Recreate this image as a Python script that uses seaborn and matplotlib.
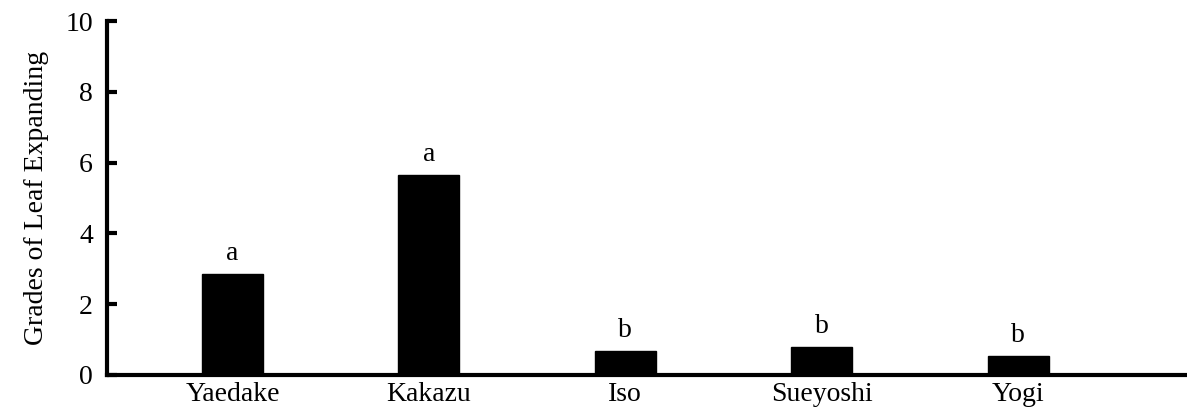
import seaborn as sns
import matplotlib.pyplot as plt
import pandas as pd

# data
cultivars = ["Yaedake", "Kakazu", "Iso", "Sueyoshi", "Yogi"]
grades = [2.85, 5.65, 0.68, 0.79, 0.54]
letters = ["a", "a", "b", "b", "b"]

df = pd.DataFrame({"cultivar": cultivars, "grade": grades})

sns.set_style("ticks", {"axes.edgecolor": "black", "text.color": "black",
                        "xtick.color": "black", "ytick.color": "black",
                        "axes.labelcolor": "black"})
plt.rcParams["font.family"] = ["Liberation Serif", "DejaVu Serif"]

fig = plt.figure(figsize=(11.87, 4.12), dpi=100)
ax = fig.add_axes([0.09, 0.09, 0.91, 0.859])

sns.barplot(data=df, x="cultivar", y="grade", color="black", width=0.31,
            edgecolor="black", ax=ax)

for i, (v, t) in enumerate(zip(grades, letters)):
    ax.text(i, v + 0.22, t, ha="center", va="bottom", fontsize=20)

ax.set_xlim(-0.64, 4.86)
ax.set_ylim(0, 10)
ax.set_yticks([0, 2, 4, 6, 8, 10])
ax.set_xlabel("")
ax.set_ylabel("Grades of Leaf Expanding", fontsize=20, labelpad=12)
ax.tick_params(axis="y", direction="in", length=7, width=3, labelsize=20, pad=10)
ax.tick_params(axis="x", length=0, labelsize=20, pad=5)
sns.despine(ax=ax)
for s in ["left", "bottom"]:
    ax.spines[s].set_linewidth(3)

fig.savefig("out.png", dpi=100)
